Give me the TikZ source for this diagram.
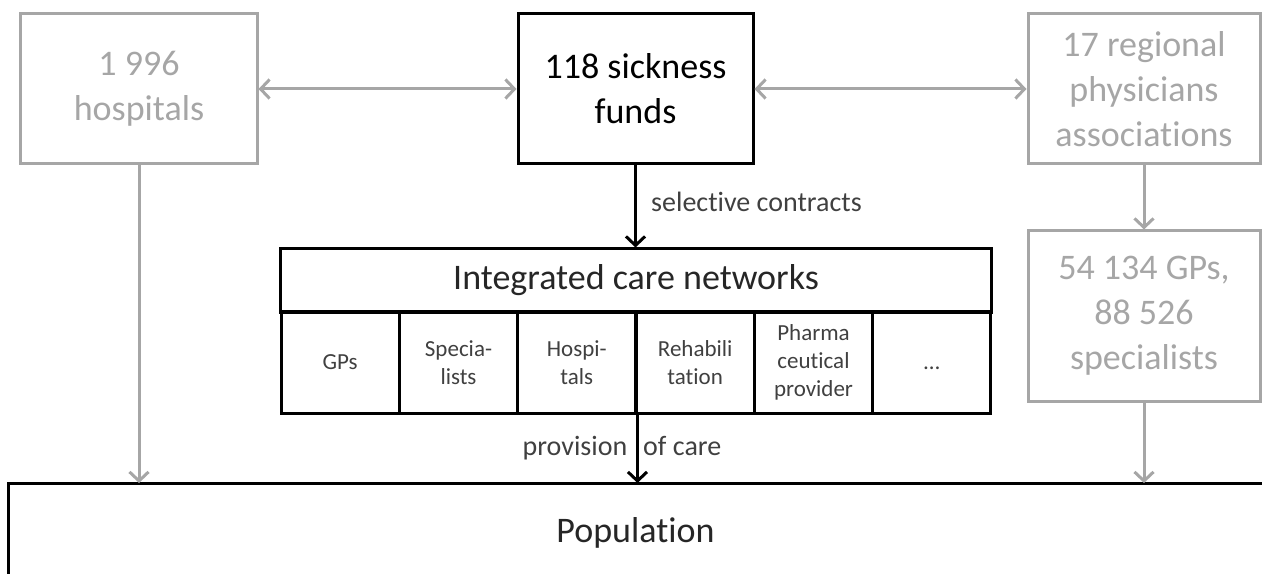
\documentclass[tikz,border=0pt]{standalone}
\usepackage{fontspec}
\setmainfont{Carlito}[RawFeature={-liga;-clig}]
\usetikzlibrary{arrows.meta}
\definecolor{softgrey}{HTML}{A6A6A6}

\newcommand{\bigtext}{\fontsize{36bp}{45bp}\selectfont}
\newcommand{\celltext}{\fontsize{23bp}{28bp}\selectfont}
\newcommand{\edgetext}{\fontsize{28bp}{32bp}\selectfont}

\begin{document}
\begin{tikzpicture}[x=1bp,y=-1bp,
  barb/.style={-{Straight Barb[length=9bp,width=19bp]}},
  twobarb/.style={{Straight Barb[length=9bp,width=19bp]}-{Straight Barb[length=9bp,width=19bp]}},
  greybox/.style={draw=softgrey, line width=3bp, text=softgrey, font=\bigtext,
    align=center, inner sep=0pt},
  blackbox/.style={draw=black, line width=3bp, text=black, font=\bigtext,
    align=center, inner sep=0pt},
  cellbox/.style={draw=black, line width=3bp, text=black!75, font=\celltext,
    align=center, inner sep=0pt, minimum width=118.33bp, minimum height=101bp},
  greylink/.style={draw=softgrey, line width=3bp},
  blacklink/.style={draw=black, line width=3bp},
  linklabel/.style={text=black!75, font=\edgetext, inner sep=0pt}
]
\useasboundingbox (0,0) rectangle (1262,574);

% top row: providers and payers
\node[greybox, minimum width=236bp, minimum height=150bp] (hosp) at (139,89)
  {1 996\\hospitals};
\node[blackbox, minimum width=235bp, minimum height=150bp] (funds) at (635.5,89)
  {118 sickness\\funds};
\node[greybox, minimum width=232bp, minimum height=150bp] (reg) at (1144,89)
  {17 regional\\physicians\\associations};
\node[greybox, minimum width=232bp, minimum height=170bp] (gps) at (1144,316)
  {54 134 GPs,\\88 526\\specialists};

% integrated care networks and their members
\node[blackbox, text=black!85, minimum width=710bp, minimum height=63bp] (icn)
  at (636,280.5) {Integrated care networks};
\node[cellbox] (c1) at (340.2,362.5) {GPs};
\node[cellbox] (c2) at (458.5,362.5) {Specia-\\lists};
\node[cellbox] (c3) at (576.8,362.5) {Hospi-\\tals};
\node[cellbox] (c4) at (695.2,362.5) {Rehabili\\tation};
\node[cellbox] (c5) at (813.5,362.5) {Pharma\\ceutical\\provider};
\node[cellbox] (c6) at (931.8,362.5) {\vphantom{GPs}…};

% population (open to the right and bottom)
\node[inner sep=0pt, outer sep=0pt, minimum width=1253bp, minimum height=100bp,
  text=black!85, font=\bigtext] (pop) at (635.5,533) {Population};
\draw[blacklink] (pop.south west) -- (pop.north west) -- ([xshift=12bp]pop.north east);

% connectors
\draw[greylink, twobarb] (hosp.east) -- (funds.west);
\draw[greylink, twobarb] (funds.east) -- (reg.west);
\draw[greylink, barb] (hosp.south) -- (hosp.south |- pop.north);
\draw[greylink, barb] (reg.south) -- (gps.north);
\draw[greylink, barb] (gps.south) -- (gps.south |- pop.north);
\draw[blacklink, barb] (funds.south) -- (funds.south |- icn.north);
\draw[blacklink, barb] (c3.south east) -- (c3.south east |- pop.north);

% connector labels
\node[linklabel, anchor=base west] (sel) at (651,212) {selective contracts};
\node[linklabel, anchor=base] (prov) at (622,455) {provision\hspace{16bp}of care};
\end{tikzpicture}
\end{document}
